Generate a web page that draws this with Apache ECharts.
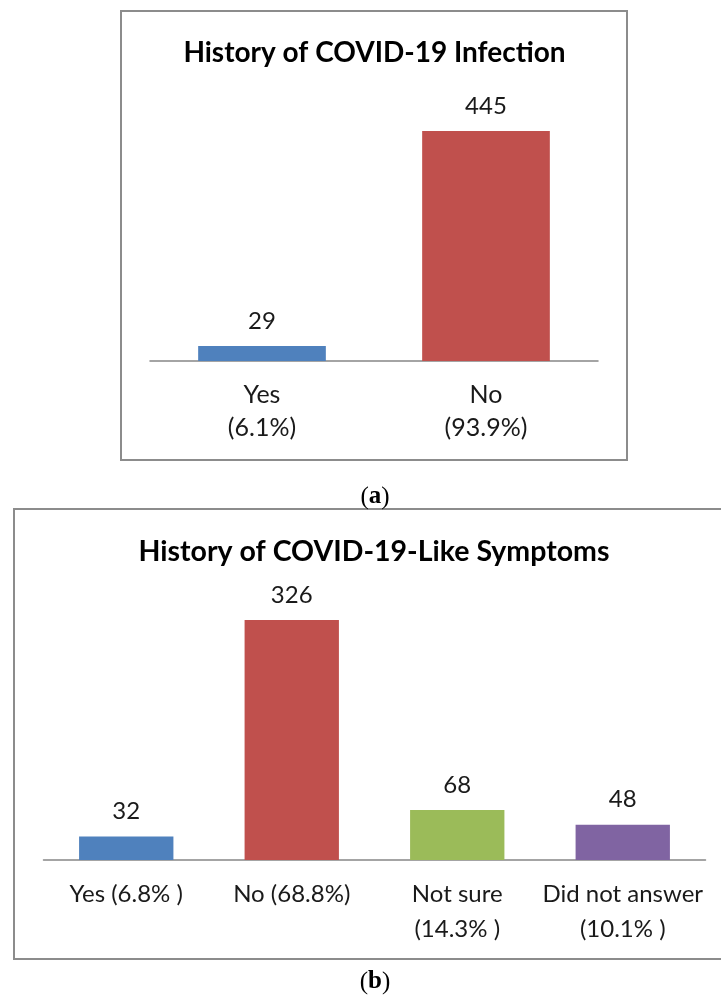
<!DOCTYPE html>
<html>
<head>
<meta charset="utf-8">
<script src="https://cdn.jsdelivr.net/npm/echarts@6/dist/echarts.min.js"></script>
<style>
    html, body { margin: 0; padding: 0; background: #fff; }
    #chart { width: 721px; height: 995px; }
</style>
</head>
<body>
<div id="chart"></div>
<script>
// chart (a)
const infectionCats = ['Yes\n(6.1%)', 'No\n(93.9%)']
const infectionVals = [29, 445]
const infectionColors = ['#4F81BD', '#C0504D']

// chart (b)
const symptomCats = ['Yes (6.8% )', 'No (68.8%)', 'Not sure\n(14.3% )', 'Did not answer\n(10.1% )']
const symptomVals = [32, 326, 68, 48]
const symptomColors = ['#4F81BD', '#C0504D', '#9BBB59', '#8064A2']

const font = 'Lato, "Open Sans", sans-serif'
const textColor = '#1a1a1a'

let chart = echarts.init(document.querySelector('#chart'))

function catAxis(gridIndex, data, size, margin, lineHeight) {
    return {
        type: 'category',
        gridIndex: gridIndex,
        data: data,
        axisTick: { show: false },
        axisLine: { lineStyle: { color: '#868686', width: 1.5 } },
        axisLabel: {
            interval: 0,
            margin: margin,
            fontFamily: font,
            fontSize: size,
            lineHeight: lineHeight,
            color: textColor
        }
    }
}

function valAxis(gridIndex, max) {
    return {
        type: 'value',
        gridIndex: gridIndex,
        min: 0,
        max: max,
        show: false,
        splitLine: { show: false }
    }
}

function barSeries(idx, vals, colors, size) {
    return {
        type: 'bar',
        xAxisIndex: idx,
        yAxisIndex: idx,
        barCategoryGap: '43%',
        data: vals.map((v, i) => ({ value: v, itemStyle: { color: colors[i] } })),
        label: {
            show: true,
            position: 'top',
            distance: 13,
            fontFamily: font,
            fontSize: size,
            color: textColor
        },
        animation: false
    }
}

function caption(letter, y) {
    return {
        type: 'text',
        x: 375,
        y: y,
        style: {
            text: '{n|(}{b|' + letter + '}{n|)}',
            textAlign: 'center',
            textVerticalAlign: 'middle',
            rich: {
                n: { fontFamily: '"Liberation Serif", serif', fontSize: 25, fill: '#000' },
                b: { fontFamily: '"Liberation Serif", serif', fontSize: 25, fontWeight: 'bold', fill: '#000' }
            }
        }
    }
}

let option = {
    backgroundColor: '#fff',
    animation: false,
    grid: [
        { left: 150, top: 102.5, width: 448, height: 258.5 },
        { left: 43.5, top: 602.4, width: 662, height: 257.6 }
    ],
    xAxis: [
        catAxis(0, infectionCats, 25, 17, 33),
        catAxis(1, symptomCats, 24, 17, 35)
    ],
    yAxis: [valAxis(0, 500), valAxis(1, 350)],
    series: [
        barSeries(0, infectionVals, infectionColors, 24),
        barSeries(1, symptomVals, symptomColors, 24)
    ],
    graphic: [
        {
            type: 'rect',
            shape: { x: 121, y: 11, width: 506, height: 449 },
            style: { fill: 'none', stroke: '#8c8c8c', lineWidth: 2 }
        },
        {
            type: 'rect',
            shape: { x: 14, y: 509, width: 730, height: 450 },
            style: { fill: 'none', stroke: '#8c8c8c', lineWidth: 2 }
        },
        {
            type: 'text',
            x: 374.5,
            y: 53,
            style: {
                text: 'History of COVID-19 Infection',
                font: 'bold 28px ' + font,
                fill: '#000',
                textAlign: 'center',
                textVerticalAlign: 'middle'
            }
        },
        {
            type: 'text',
            x: 374,
            y: 552,
            style: {
                text: 'History of COVID-19-Like Symptoms',
                font: 'bold 28.5px ' + font,
                fill: '#000',
                textAlign: 'center',
                textVerticalAlign: 'middle'
            }
        },
        caption('a', 497),
        caption('b', 982)
    ]
}

chart.setOption(option)
</script>
</body>
</html>
